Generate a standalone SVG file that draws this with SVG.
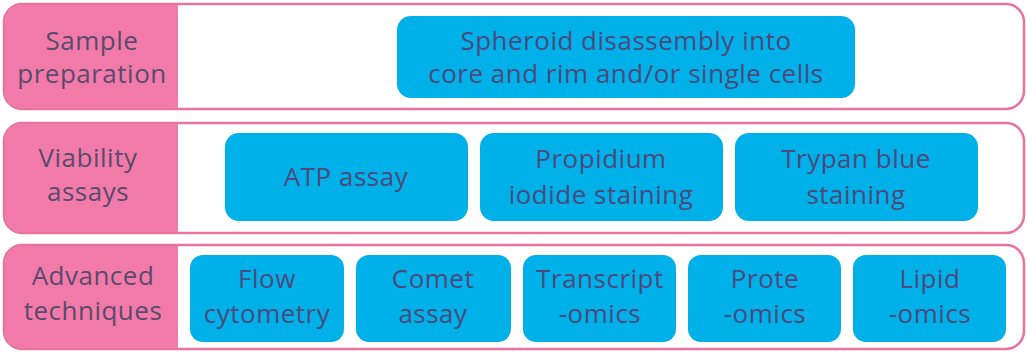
<svg xmlns="http://www.w3.org/2000/svg" width="1027" height="352" viewBox="0 0 1027 352">
<style>
.row{fill:#fff;stroke:#e8739f;stroke-width:2.5}
.lab{fill:#f27aa8}
.box{fill:#00b0e8}
text{font-family:"Open Sans",Lato,sans-serif;font-size:26px;letter-spacing:0.5px;fill:#4c4a7c;text-anchor:middle}
.lt{fill:#5a4a6e}
</style>
<rect width="1027" height="352" fill="#fff"/>
<g id="row1">
<rect class="row" x="4" y="4" width="1020" height="105" rx="18"/>
<path class="lab" d="M22 5H178V108H22A17 17 0 0 1 5 91V22A17 17 0 0 1 22 5Z"/>
<text class="lt" x="92" y="50">Sample</text>
<text class="lt" x="92" y="83">preparation</text>
</g>
<g id="row2">
<rect class="row" x="4" y="123" width="1020" height="110" rx="18"/>
<path class="lab" d="M22 124H178V232H22A17 17 0 0 1 5 215V141A17 17 0 0 1 22 124Z"/>
<text class="lt" x="88" y="167">Viability</text>
<text class="lt" x="88" y="201">assays</text>
</g>
<g id="row3">
<rect class="row" x="4" y="245" width="1020" height="104" rx="18"/>
<path class="lab" d="M22 246H178V348H22A17 17 0 0 1 5 331V263A17 17 0 0 1 22 246Z"/>
<text class="lt" x="93" y="285">Advanced</text>
<text class="lt" x="93" y="320">techniques</text>
</g>
<g id="spheroid">
<rect class="box" x="397" y="16" width="458" height="82" rx="14"/>
<text x="626" y="50">Spheroid disassembly into</text>
<text x="626" y="83">core and rim and/or single cells</text>
</g>
<g id="atp">
<rect class="box" x="225" y="133" width="243" height="88" rx="14"/>
<text x="346" y="186">ATP assay</text>
</g>
<g id="propidium">
<rect class="box" x="480" y="133" width="243" height="88" rx="14"/>
<text x="601" y="168">Propidium</text>
<text x="601" y="204">iodide staining</text>
</g>
<g id="trypan">
<rect class="box" x="735" y="133" width="243" height="88" rx="14"/>
<text x="856" y="168">Trypan blue</text>
<text x="856" y="204">staining</text>
</g>
<g id="flow">
<rect class="box" x="190" y="255" width="154" height="87" rx="13"/>
<text x="267" y="288">Flow</text>
<text x="267" y="323">cytometry</text>
</g>
<g id="comet">
<rect class="box" x="356" y="255" width="155" height="87" rx="13"/>
<text x="433" y="288">Comet</text>
<text x="433" y="323">assay</text>
</g>
<g id="transcript">
<rect class="box" x="523" y="255" width="153" height="87" rx="13"/>
<text x="600" y="288">Transcript</text>
<text x="600" y="323">-omics</text>
</g>
<g id="prote">
<rect class="box" x="688" y="255" width="153" height="87" rx="13"/>
<text x="765" y="288">Prote</text>
<text x="765" y="323">-omics</text>
</g>
<g id="lipid">
<rect class="box" x="853" y="255" width="153" height="87" rx="13"/>
<text x="930" y="288">Lipid</text>
<text x="930" y="323">-omics</text>
</g>
<g id="connectors"/>
</svg>
